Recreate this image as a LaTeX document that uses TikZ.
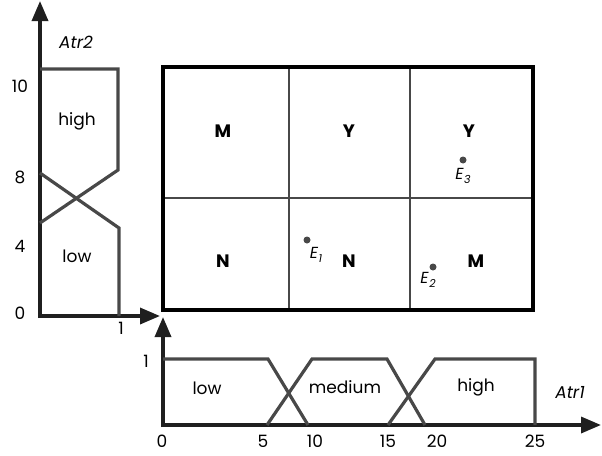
\documentclass[tikz,border=0pt]{standalone}
\usepackage{fontspec}
\setmainfont{Poppins}
\usepackage{xcolor}
\usetikzlibrary{arrows.meta}

\definecolor{mfline}{HTML}{484848}
\newcommand{\evlabel}[1]{\textit{E}\kern0.5pt\raisebox{-0.4ex}{\fontsize{11}{11}\selectfont\textit{#1}}}

\tikzset{
  axisline/.style={line width=3.4pt, draw=black!88, -{Triangle[length=20pt,width=16pt]}},
  mfline/.style={line width=3.2pt, draw=mfline, line join=miter},
  tick/.style={font=\fontsize{17}{19}\selectfont},
  setname/.style={font=\fontsize{17}{19}\selectfont},
  rule/.style={font=\fontsize{18}{20}\selectfont\bfseries},
  evdot/.style={circle, fill=mfline, inner sep=0pt, minimum size=7pt}
}

\begin{document}
\begin{tikzpicture}[x=1pt, y=-1pt]
        \useasboundingbox (0,0) rectangle (602,455);

        % Atr2 axes
        \draw[axisline] (40,318) -- (40,1);
        \draw[axisline] (40,316) -- (160,316);
        \node[font=\fontsize{17}{19}\selectfont\itshape] (atrtwo) at (76,42) {Atr2};

        % Atr2 tick labels
        \node[tick] (ytick10) at (20,86) {10};
        \node[tick] (ytick8) at (20,177) {8};
        \node[tick] (ytick4) at (20,246) {4};
        \node[tick] (ytick0) at (20,313) {0};
        \node[tick] (ytick1) at (121,328) {1};

        % Atr2 membership functions
        \draw[mfline] (40,69) -- (118,69) -- (118,170) -- (40,223);
        \draw[mfline] (40,173) -- (119,228) -- (119,316);
        \node[setname] (ahigh) at (77,121) {high};
        \node[setname] (alow) at (77,256) {low};

        % Rule grid
        \draw[line width=1.8pt, draw=mfline] (289,67) -- (289,310);
        \draw[line width=1.8pt, draw=mfline] (410,67) -- (410,310);
        \draw[line width=1.8pt, draw=mfline] (163,198) -- (533,198);
        \draw[line width=3.6pt] (163,67) rectangle (533,310);

        % Rule outcomes
        \node[rule] (r11) at (223,131) {M};
        \node[rule] (r12) at (349,131) {Y};
        \node[rule] (r13) at (469,131) {Y};
        \node[rule] (r21) at (223,261) {N};
        \node[rule] (r22) at (349,261) {N};
        \node[rule] (r23) at (476,261) {M};

        % Examples
        \node[evdot] (e1) at (307,240) {};
        \node[evdot] (e2) at (433,267) {};
        \node[evdot] (e3) at (463,160) {};
        \node[font=\fontsize{16}{18}\selectfont] (e1lab) at (316,255) {\evlabel{1}};
        \node[font=\fontsize{16}{18}\selectfont] (e2lab) at (428,280) {\evlabel{2}};
        \node[font=\fontsize{16}{18}\selectfont] (e3lab) at (463,176) {\evlabel{3}};

        % Atr1 axes
        \draw[axisline] (163,427) -- (163,317);
        \draw[axisline] (161,425) -- (601,425);
        \node[font=\fontsize{17}{19}\selectfont\itshape] (atrone) at (570,392) {Atr1};

        % Atr1 tick labels
        \node[tick] (xtick0) at (162,441) {0};
        \node[tick] (xtick5) at (263,441) {5};
        \node[tick] (xtick10) at (315,441) {10};
        \node[tick] (xtick15) at (388,441) {15};
        \node[tick] (xtick20) at (437,441) {20};
        \node[tick] (xtick25) at (535,441) {25};
        \node[tick] (xtickone) at (146,361) {1};

        % Atr1 membership functions
        \draw[mfline] (163,359) -- (268,359) -- (308,425);
        \draw[mfline] (267,425) -- (312,359) -- (387,359) -- (425,425);
        \draw[mfline] (388,425) -- (435,359) -- (535,359) -- (535,425);
        \node[setname] (blow) at (207,388) {low};
        \node[setname] (bmedium) at (345,387) {medium};
        \node[setname] (bhigh) at (476,387) {high};
\end{tikzpicture}
\end{document}
